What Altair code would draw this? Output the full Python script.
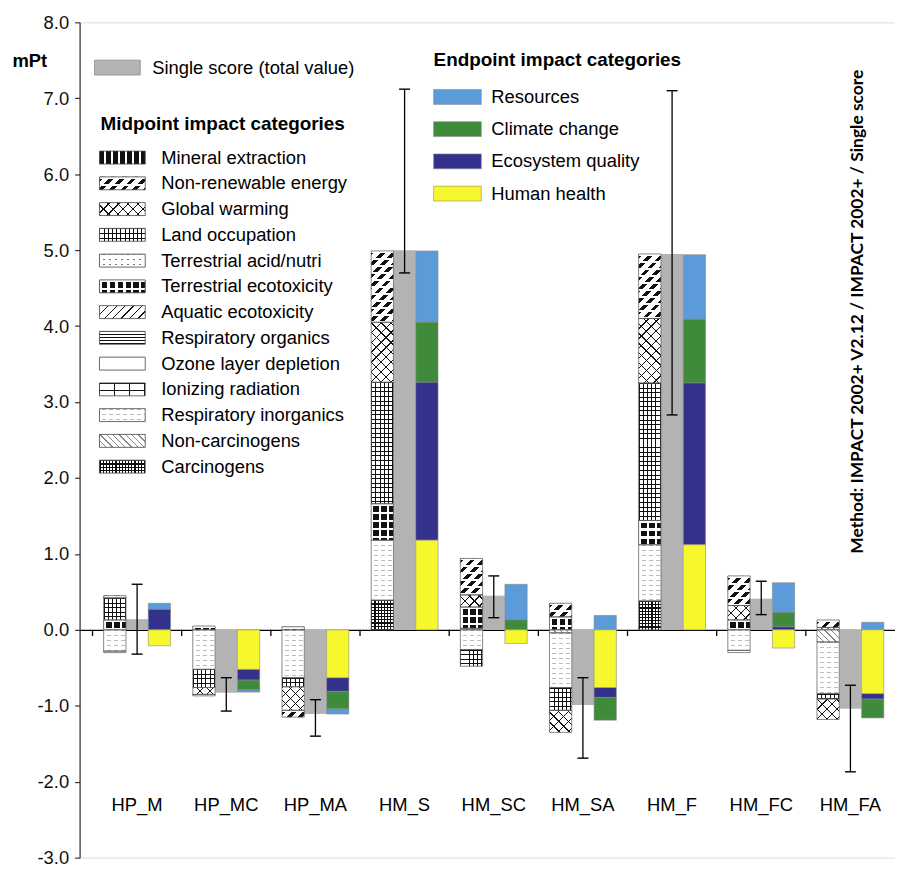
import math
import altair as alt
import pandas as pd

# ---------------- data ----------------
categories = ["HP_M", "HP_MC", "HP_MA", "HM_S", "HM_SC", "HM_SA", "HM_F", "HM_FC", "HM_FA"]

single_score = [0.14, -0.83, -1.11, 5.00, 0.45, -0.99, 4.95, 0.41, -1.04]
error_low = [-0.32, -1.07, -1.40, 4.70, 0.16, -1.69, 2.83, 0.20, -1.87]
error_high = [0.60, -0.63, -0.92, 7.12, 0.71, -0.63, 7.10, 0.64, -0.73]

endpoint_names = ["Resources", "Climate change", "Ecosystem quality", "Human health"]
resources = [0.08, -0.03, -0.07, 0.94, 0.47, 0.19, 0.85, 0.39, 0.10]
climate_change = [0.00, -0.13, -0.23, 0.79, 0.13, -0.30, 0.84, 0.19, -0.25]
ecosystem_quality = [0.27, -0.14, -0.18, 2.08, 0.00, -0.13, 2.13, 0.04, -0.07]
human_health = [-0.21, -0.52, -0.63, 1.18, -0.18, -0.76, 1.12, -0.24, -0.84]
endpoint_colors = ["#5b9bd9", "#3f8b3b", "#33318c", "#f7f72d"]

midpoint_names = [
    "Mineral extraction", "Non-renewable energy", "Global warming", "Land occupation",
    "Terrestrial acid/nutri", "Terrestrial ecotoxicity", "Aquatic ecotoxicity",
    "Respiratory organics", "Ozone layer depletion", "Ionizing radiation",
    "Respiratory inorganics", "Non-carcinogens", "Carcinogens",
]
mineral_extraction = [0, 0, 0, 0, 0, 0, 0, 0, 0]
non_renewable_energy = [0.03, -0.02, -0.09, 0.94, 0.48, 0.18, 0.85, 0.39, 0.10]
global_warming = [0.00, -0.09, -0.31, 0.79, 0.16, -0.29, 0.85, 0.19, -0.27]
land_occupation = [0.29, -0.24, -0.12, 1.60, -0.22, -0.30, 1.81, 0.00, -0.07]
terrestrial_acid = [0, 0, 0, 0, 0, 0, 0, 0, 0.03]
terrestrial_ecotox = [0.13, 0.05, 0.04, 0.48, 0.28, 0.17, 0.32, 0.13, 0.00]
aquatic_ecotox = [0, 0, 0, 0, 0, 0, 0, 0, 0]
respiratory_organics = [0, 0, 0, 0, 0, 0, 0, 0, 0]
ozone_depletion = [-0.02, 0, 0, 0, 0, 0, 0, -0.03, 0]
ionizing_radiation = [0, 0, 0, 0, 0, 0, 0, 0, 0]
respiratory_inorganics = [-0.28, -0.52, -0.63, 0.79, -0.26, -0.72, 0.74, -0.27, -0.68]
non_carcinogens = [0, 0, 0, 0, 0.02, -0.04, 0, 0, -0.16]
carcinogens = [0, 0, 0, 0.39, 0, 0, 0.38, 0, 0]

midpoint_values = [
    mineral_extraction, non_renewable_energy, global_warming, land_occupation,
    terrestrial_acid, terrestrial_ecotox, aquatic_ecotox, respiratory_organics,
    ozone_depletion, ionizing_radiation, respiratory_inorganics, non_carcinogens, carcinogens,
]
endpoint_values = [resources, climate_change, ecosystem_quality, human_health]

method_text = "Method: IMPACT 2002+ V2.12 / IMPACT 2002+ / Single score"

# ---------------- layout / style ----------------
W, H = 820, 840
PXU = H / 11.0
ZERO_PX = H * 8 / 11.0
LEFT_GAP = 13.0
STEP = (W - LEFT_GAP) / 9.0
P_OUT = LEFT_GAP / (2 * STEP)
SUB_W = STEP / 4.0
FONT = "Liberation Sans"
FS = 18.5
BLACK = "#111111"
CLEAR = "rgba(255,255,255,0)"
T = 160.0

# pattern: base colour + overlay line sets (direction, period, thickness, colour)
patterns = {
    "Mineral extraction": ("#ffffff", [("v", 7.0, 4.5, BLACK)]),
    "Non-renewable energy": ("#ffffff", [("d1", 8.0, 3.4, BLACK), ("h", 7.0, 2.0, "#ffffff")]),
    "Global warming": ("#ffffff", [("d1", 7.0, 0.9, BLACK), ("d2", 7.0, 0.9, BLACK)]),
    "Land occupation": ("#ffffff", [("v", 4.2, 1.0, BLACK), ("h", 4.6, 1.0, BLACK)]),
    "Terrestrial acid/nutri": ("#ffffff", [("h", 5.0, 1.0, "#777777"), ("v", 6.0, 4.0, "#ffffff")]),
    "Terrestrial ecotoxicity": (BLACK, [("v", 8.0, 2.2, "#ffffff"), ("h", 8.0, 2.2, "#ffffff")]),
    "Aquatic ecotoxicity": ("#ffffff", [("d1", 6.0, 0.9, BLACK)]),
    "Respiratory organics": ("#ffffff", [("h", 3.0, 0.9, BLACK)]),
    "Ozone layer depletion": ("#ffffff", []),
    "Ionizing radiation": ("#ffffff", [("h", 7.0, 0.8, BLACK), ("v", 15.0, 0.8, BLACK)]),
    "Respiratory inorganics": ("#ffffff", [("h", 5.0, 1.0, "#bdbdbd"), ("v", 7.0, 3.0, "#ffffff")]),
    "Non-carcinogens": ("#ffffff", [("d2", 4.5, 0.9, "#888888")]),
    "Carcinogens": ("#ffffff", [("v", 3.2, 1.2, BLACK), ("h", 3.2, 1.2, BLACK)]),
}


def stops_js(period, thick, color):
    parts = ["{offset:0,color:'%s'}" % CLEAR]
    k = 0
    while True:
        a = k * period
        if a >= T:
            break
        b = min(a + thick, T)
        ao, bo = a / T, b / T
        parts.append("{offset:%.5f,color:'%s'}" % (ao, CLEAR))
        parts.append("{offset:%.5f,color:'%s'}" % (ao, color))
        parts.append("{offset:%.5f,color:'%s'}" % (bo, color))
        parts.append("{offset:%.5f,color:'%s'}" % (bo, CLEAR))
        k += 1
    return "[" + ",".join(parts) + "]"


def grad_expr(direction, period, thick, color, w, h):
    w = "(%s)" % w
    h = "(%s)" % h
    c = "(1.41421*%s/(%s*%s+%s*%s))" % (T, w, w, h, h)
    if direction == "v":
        coords = "x1:0,y1:0,x2:%s/%s,y2:0" % (T, w)
    elif direction == "h":
        coords = "x1:0,y1:0,x2:0,y2:%s/%s" % (T, h)
    elif direction == "d1":
        coords = "x1:0,y1:0,x2:%s*%s,y2:%s*%s" % (c, w, c, h)
    else:
        coords = "x1:0,y1:1,x2:%s*%s,y2:1-%s*%s" % (c, w, c, h)
    return "{gradient:'linear'," + coords + ",stops:" + stops_js(period, thick, color) + "}"


# ---------------- tables ----------------
mid_rows = []
for j, (name, vals) in enumerate(zip(midpoint_names, midpoint_values)):
    for cat, v in zip(categories, vals):
        if v != 0:
            mid_rows.append({"cat": cat, "impact": name, "value": v, "ord": 12 - j, "kind": "mid"})
mid_df = pd.DataFrame(mid_rows)

end_rows = []
for j, (name, vals) in enumerate(zip(endpoint_names, endpoint_values)):
    for cat, v in zip(categories, vals):
        if v != 0:
            end_rows.append({"cat": cat, "endpoint": name, "value": v, "ord": 3 - j, "kind": "end"})
end_df = pd.DataFrame(end_rows)

single_df = pd.DataFrame({"cat": categories, "value": single_score, "lo": error_low,
                          "hi": error_high, "kind": ["single"] * len(categories)})

# ---------------- scales / axes ----------------
X_SCALE = alt.Scale(domain=categories, paddingInner=0, paddingOuter=P_OUT, align=1)
XO_SCALE = alt.Scale(domain=["mid", "single", "end"], paddingInner=0, paddingOuter=0.5)
Y_SCALE = alt.Scale(domain=[-3, 8], nice=False, zero=False)

X_AXIS = alt.Axis(offset=-(H - ZERO_PX), title=None, domain=True, domainColor="#000000", domainWidth=1.4,
                  ticks=False, labelPadding=167, labelFont=FONT, labelFontSize=FS, labelColor="#000000",
                  labelAngle=0, grid=False)
Y_AXIS = alt.Axis(values=list(range(-3, 9)), labelExpr="replace(format(datum.value, '.1f'), '\u2212', '-')",
                  title="mPt", titleAngle=0, titleX=-68, titleY=38, titleAlign="left",
                  titleBaseline="middle", titleFont=FONT, titleFontSize=FS, titleFontWeight="bold",
                  titleColor="#000000", domainColor="#333333", domainWidth=1.2, tickColor="#333333",
                  tickSize=5, tickWidth=1.2, labelFont=FONT, labelFontSize=FS, labelColor="#111111",
                  labelPadding=6, grid=False)

X_ENC = alt.X("cat:N", scale=X_SCALE, axis=X_AXIS)
XO_ENC = alt.XOffset("kind:N", scale=XO_SCALE)


def yenc(field):
    return alt.Y(field, scale=Y_SCALE, axis=Y_AXIS)


layers = []

# single score (grey)
layers.append(alt.Chart(single_df).mark_bar(color="#b3b3b3").encode(
    x=X_ENC, xOffset=XO_ENC, y=alt.Y("value:Q", scale=Y_SCALE, axis=Y_AXIS, stack=None)))

# endpoint stacked bars (human health nearest zero)
end_base = alt.Chart(end_df).transform_stack(
    stack="value", groupby=["cat"], as_=["y0", "y1"], sort=[alt.SortField("ord", order="ascending")])
layers.append(end_base.mark_bar(stroke="#8a8a8a", strokeWidth=0.6).encode(
    x=X_ENC, xOffset=XO_ENC, y=yenc("y0:Q"), y2="y1:Q",
    fill=alt.Fill("endpoint:N", scale=alt.Scale(domain=endpoint_names, range=endpoint_colors), legend=None)))

# midpoint stacked patterned bars
mid_base = alt.Chart(mid_df).transform_stack(
    stack="value", groupby=["cat"], as_=["y0", "y1"], sort=[alt.SortField("ord", order="ascending")]
).transform_calculate(hpx="max(0.5, abs(datum.y1 - datum.y0) * %f)" % PXU)
base_colors = [patterns[n][0] for n in midpoint_names]
layers.append(mid_base.mark_bar().encode(
    x=X_ENC, xOffset=XO_ENC, y=yenc("y0:Q"), y2="y1:Q",
    color=alt.Color("impact:N", scale=alt.Scale(domain=midpoint_names, range=base_colors), legend=None)))
for name in midpoint_names:
    for (d, per, th, col) in patterns[name][1]:
        layers.append(mid_base.transform_filter(alt.datum.impact == name).mark_bar(
            fill=alt.ExprRef(expr=grad_expr(d, per, th, col, "%.3f" % SUB_W, "datum.hpx"))).encode(
            x=X_ENC, xOffset=XO_ENC, y=yenc("y0:Q"), y2="y1:Q"))
layers.append(mid_base.mark_bar(fill="transparent", stroke="#555555", strokeWidth=0.7).encode(
    x=X_ENC, xOffset=XO_ENC, y=yenc("y0:Q"), y2="y1:Q"))

# category separator ticks hanging from the zero line
layers.append(alt.Chart(single_df).mark_rule(color="#000000", strokeWidth=1.3).encode(
    x=alt.X("cat:N", scale=X_SCALE, axis=X_AXIS, bandPosition=0),
    y=alt.YDatum(0, scale=Y_SCALE, axis=Y_AXIS), y2=alt.Y2Datum(-0.08)))

# error bars
err = alt.Chart(single_df)
layers.append(err.mark_rule(color="#000000", strokeWidth=1.3).encode(
    x=X_ENC, xOffset=XO_ENC, y=yenc("lo:Q"), y2="hi:Q"))
layers.append(err.mark_tick(color="#000000", size=11, thickness=1.4, opacity=1).encode(
    x=X_ENC, xOffset=XO_ENC, y=yenc("lo:Q")))
layers.append(err.mark_tick(color="#000000", size=11, thickness=1.4, opacity=1).encode(
    x=X_ENC, xOffset=XO_ENC, y=yenc("hi:Q")))


# ---------------- legends ----------------
def text_layer(label, x, y, bold=False, size=FS, font=FONT, angle=0, align="left"):
    kw = dict(font=font, fontSize=size, color="#000000", align=align, baseline="middle")
    if bold:
        kw["fontWeight"] = "bold"
    if angle:
        kw["angle"] = angle
    return alt.Chart(pd.DataFrame({"label": [label]})).mark_text(**kw).encode(
        text="label:N", x=alt.value(x), y=alt.value(y))


def rect_layer(label, x, y, w, h, **mk):
    return alt.Chart(pd.DataFrame({"label": [label]})).mark_rect(**mk).encode(
        x=alt.value(x), x2=alt.value(x + w), y=alt.value(y), y2=alt.value(y + h))


# single score legend
layers.append(rect_layer("Single score", 15, 38, 46, 15, fill="#b3b3b3", stroke="#8c8c8c", strokeWidth=0.8))
layers.append(text_layer("Single score (total value)", 73, 46))

# midpoint legend
layers.append(text_layer("Midpoint impact categories", 21, 102, bold=True, size=19))
SW_W, SW_H = 46, 13
for i, name in enumerate(midpoint_names):
    cy = 136 + 25.9 * i
    base, overlays = patterns[name]
    layers.append(rect_layer(name, 20, cy - SW_H / 2, SW_W, SW_H, fill=base))
    for (d, per, th, col) in overlays:
        layers.append(rect_layer(name, 20, cy - SW_H / 2, SW_W, SW_H,
                                 fill=alt.ExprRef(expr=grad_expr(d, per, th, col, SW_W, SW_H))))
    layers.append(rect_layer(name, 20, cy - SW_H / 2, SW_W, SW_H, fill="transparent",
                             stroke="#444444", strokeWidth=0.8))
    layers.append(text_layer(name, 82, cy))

# endpoint legend
layers.append(text_layer("Endpoint impact categories", 356, 38, bold=True, size=19))
for i, (name, col) in enumerate(zip(endpoint_names, endpoint_colors)):
    cy = 75 + 32.4 * i
    layers.append(rect_layer(name, 356, cy - 7.5, 48, 15, fill=col, stroke="#8a8a8a", strokeWidth=0.6))
    layers.append(text_layer(name, 414, cy))

# method note (rotated)
layers.append(text_layer(method_text, 783, 291, bold=True, size=17.5, font="Lato", angle=270, align="center"))

chart = alt.layer(*layers).properties(
    width=W, height=H,
    padding={"left": 72, "top": 12, "right": 0, "bottom": 8},
    autosize=alt.AutoSizeParams(type="none"),
).configure_view(stroke=None).configure(background="#ffffff")

chart.save("out.html", embed_options={"renderer": "svg", "actions": False})
